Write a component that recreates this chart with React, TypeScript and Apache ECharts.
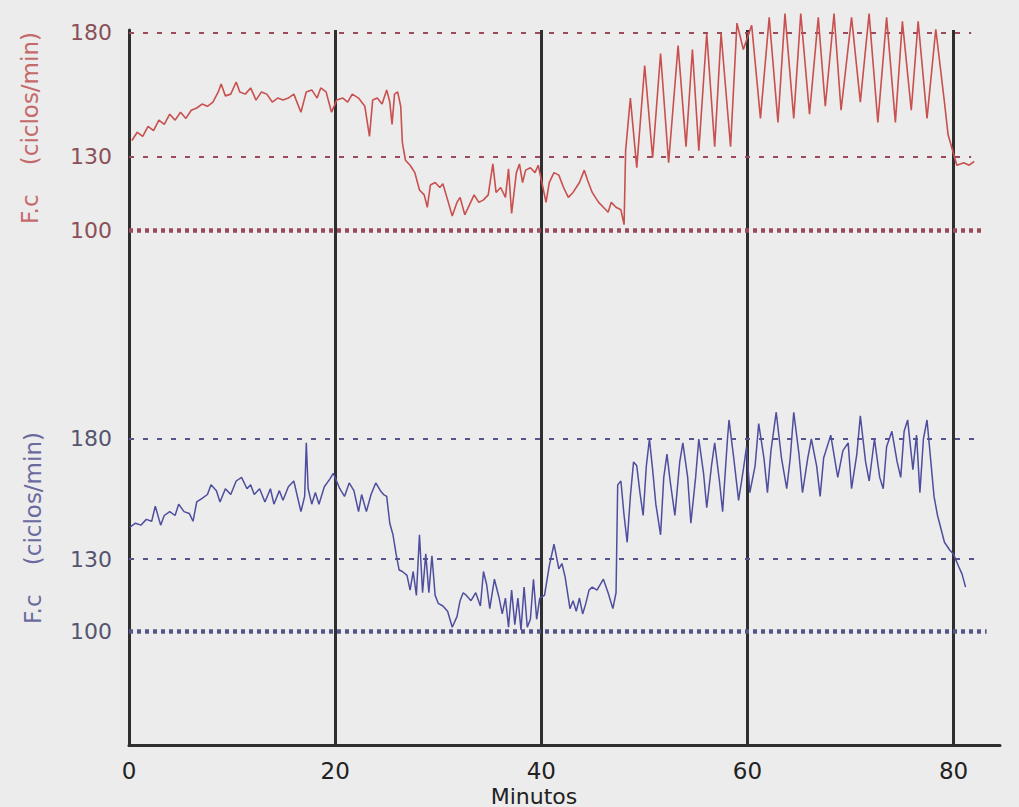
import React, { useEffect, useRef } from 'react';
import * as echarts from 'echarts';

const minuteTicks = [0, 20, 40, 60, 80];
const bpmTicks = [100, 130, 180];
const guideMinutes = [20, 40, 60, 80];
// end (minutes) of the reference lines at 100, 130, 180
const topRefEnds = [82.7, 81.7, 81.7];
const bottomRefEnds = [83.2, 82.1, 82.1];

const topMinutes = [
  0.28, 0.8, 1.33, 1.85, 2.38, 2.9, 3.42, 3.95, 4.47, 5.0, 5.52, 6.04, 6.57, 7.09, 7.61, 8.14, 8.66, 8.94, 9.35, 9.87,
  10.4, 10.75, 11.28, 11.8, 12.32, 12.85, 13.37, 13.9, 14.42, 14.94, 15.46, 15.99, 16.68, 17.2, 17.73, 18.25, 18.6, 19.12, 19.65, 20.15,
  20.75, 21.21, 21.66, 22.27, 22.88, 23.33, 23.64, 24.09, 24.55, 25.0, 25.3, 25.52, 25.76, 26.06, 26.36, 26.52, 26.82, 27.27, 27.73, 28.18,
  28.64, 28.94, 29.24, 29.7, 30.15, 30.45, 30.91, 31.36, 31.82, 32.12, 32.58, 33.03, 33.48, 33.94, 34.39, 34.85, 35.3, 35.61, 36.06, 36.52,
  36.82, 37.12, 37.58, 37.88, 38.18, 38.48, 38.94, 39.39, 39.7, 40.46, 40.77, 41.23, 41.7, 42.16, 42.62, 43.08, 43.7, 44.17, 44.48, 44.94,
  45.56, 46.02, 46.48, 46.79, 47.25, 47.72, 48.03, 48.18, 48.64, 49.26, 50.03, 50.8, 51.57, 52.35, 53.27, 54.04, 54.66, 55.28, 56.05, 56.82,
  57.44, 58.36, 58.98, 59.6, 60.41, 61.26, 62.11, 62.96, 63.64, 64.49, 65.17, 66.02, 66.87, 67.55, 68.4, 69.08, 70.1, 70.95, 71.8, 72.65,
  73.5, 74.35, 75.03, 75.89, 76.56, 77.42, 78.27, 79.11, 79.46, 80.31, 80.99, 81.5, 82.0,
];
const topBpm = [
  136.4, 139.7, 138, 142.1, 140.4, 144.6, 142.9, 147, 144.6, 147.8, 145.3, 148.6, 149.5, 151.1, 150.2, 151.9, 156, 159.2, 154.4, 155.1,
  160, 156, 155.1, 157.6, 152.7, 156, 155.1, 151.9, 153.5, 152.7, 153.5, 155.1, 147.8, 156, 156.8, 153.5, 157.6, 156, 147.8, 152.7,
  153.5, 151.9, 155.1, 153.5, 150.2, 138, 152.7, 153.5, 151.1, 156.8, 151.9, 142.9, 155.1, 156, 150.2, 135.5, 128.4, 126.4, 123.4, 116.4,
  114.4, 109.4, 118.4, 119.4, 117.4, 118.9, 112.4, 105.9, 111.4, 113.4, 106.4, 110.4, 114.4, 111.4, 112.4, 114.4, 126.9, 115.4, 117.4, 113.4,
  124.9, 106.9, 123.4, 126.9, 119.4, 124.4, 125.4, 123.4, 126.4, 111.4, 119.4, 123.4, 122.4, 117.4, 113.4, 115.4, 119.4, 124.4, 120.4, 115.4,
  111.4, 109.4, 107.4, 111.4, 109.4, 108.4, 102.4, 132.3, 153.5, 125.4, 166.6, 129.4, 171.5, 127.4, 174.7, 133.9, 173.1, 132.3, 179.6, 133.9,
  179.6, 133.9, 183.8, 173.1, 182.9, 145.3, 186.1, 143.7, 187.6, 145.3, 187.6, 147, 186.1, 150.2, 187.6, 148.6, 186.1, 151.9, 187.6, 143.7,
  186.1, 143.7, 184.5, 148.6, 184.5, 145.3, 181.3, 151.9, 138.8, 126.4, 127.4, 126.4, 127.9,
];

const bottomMinutes = [
  0.1, 0.63, 1.15, 1.68, 2.2, 2.55, 3.07, 3.42, 3.95, 4.47, 4.82, 5.34, 5.86, 6.21, 6.57, 7.09, 7.61, 7.96, 8.48, 8.83,
  9.35, 9.87, 10.4, 10.92, 11.45, 11.8, 12.15, 12.67, 13.19, 13.72, 14.06, 14.59, 14.94, 15.46, 15.99, 16.68, 17.04, 17.2, 17.38, 17.73,
  18.08, 18.43, 18.95, 19.48, 19.82, 20.45, 20.91, 21.36, 21.82, 22.27, 22.57, 23.03, 23.48, 23.94, 24.39, 24.7, 25.0, 25.3, 25.61, 25.91,
  26.21, 26.52, 26.97, 27.27, 27.57, 27.88, 28.18, 28.48, 28.79, 29.09, 29.39, 29.7, 30.0, 30.45, 30.91, 31.36, 31.82, 32.12, 32.42, 32.73,
  33.18, 33.64, 34.09, 34.39, 34.7, 35.0, 35.45, 35.91, 36.21, 36.52, 36.82, 37.12, 37.43, 37.73, 38.03, 38.33, 38.64, 38.94, 39.24, 39.55,
  39.85, 40.31, 40.77, 41.23, 41.7, 42.0, 42.31, 42.78, 43.08, 43.39, 43.7, 44.01, 44.32, 44.63, 44.94, 45.4, 46.02, 46.48, 46.94, 47.25,
  47.41, 47.72, 48.03, 48.33, 48.64, 48.95, 49.26, 49.57, 49.88, 50.19, 50.49, 50.8, 51.11, 51.57, 51.88, 52.19, 52.5, 52.96, 53.43, 53.73,
  54.2, 54.51, 54.97, 55.28, 55.74, 56.05, 56.51, 56.82, 57.28, 57.59, 58.06, 58.21, 58.67, 59.14, 59.6, 59.91, 60.23, 60.74, 61.09, 61.6,
  61.94, 62.28, 62.79, 63.3, 63.81, 64.15, 64.49, 65.0, 65.34, 65.85, 66.2, 66.71, 67.05, 67.39, 68.08, 68.76, 69.26, 69.77, 70.1, 70.61,
  70.95, 71.46, 71.81, 72.32, 72.83, 73.17, 73.5, 74.01, 74.52, 74.87, 75.2, 75.54, 76.05, 76.4, 76.73, 77.07, 77.42, 77.76, 78.1, 78.44,
  79.11, 79.62, 79.97, 80.48, 80.82, 81.16,
];
const bottomBpm = [
  143.3, 144.9, 144.1, 146.5, 145.7, 152, 144.1, 148.1, 149.7, 148.1, 152.8, 149.7, 148.9, 145.7, 153.7, 155.2, 156.8, 160.8, 158.4, 153.7,
  159.2, 156.8, 162.4, 163.9, 159.2, 160.8, 156.8, 159.2, 153.7, 159.2, 152.8, 158.4, 154.4, 160, 162.4, 149.7, 156, 178.2, 159.2, 152.8,
  157.6, 152.8, 160, 163.2, 165.6, 159.2, 156, 161.6, 158.4, 149.7, 156.8, 149.7, 156.8, 161.6, 158.4, 156.8, 156, 144.9, 140.1, 132.2,
  125.5, 124.9, 123.3, 117.2, 124.9, 115, 140.1, 116.1, 132.2, 116.1, 131.4, 115, 111.7, 110.6, 108.4, 101.8, 106.2, 112.8, 116.1, 115,
  112.8, 116.1, 110.6, 124.9, 119.4, 109.5, 121.7, 113.9, 107.3, 113.9, 101.8, 117.2, 102.9, 113.9, 100.7, 118.4, 101.8, 105.1, 121.7, 105.1,
  113.9, 115, 127.1, 136.2, 126, 128.2, 122.7, 109.5, 112.8, 108.4, 113.9, 107.3, 111.7, 117.2, 118.4, 117.2, 121.7, 116.1, 109.5, 116.1,
  160.8, 162.4, 148.1, 137, 156, 170.3, 168.7, 157.6, 148.1, 168.7, 179.8, 167.1, 152.8, 140.1, 163.9, 173.5, 162.4, 148.1, 170.3, 178.2,
  163.9, 144.9, 163.9, 179.8, 165.6, 151.3, 168.7, 178.2, 162.4, 149.7, 179.8, 187.7, 171.9, 154.4, 167.1, 176.6, 157.6, 168.7, 186.2, 171.9,
  157.6, 175, 190.9, 171.9, 159.2, 171.9, 190.9, 173.5, 157.6, 171.9, 179.8, 168.7, 156, 171.9, 181.4, 163.9, 175, 178.2, 159.2, 173.5,
  189.4, 170.3, 162.4, 179.8, 163.9, 159.2, 176.6, 183, 170.3, 163.9, 183, 187.7, 167.1, 181.4, 157.6, 179.8, 187.7, 171.9, 156, 148.1,
  137, 133.8, 132.2, 127.1, 123.8, 118.4,
];

const FONT = "'DejaVu Sans', 'Noto Sans', sans-serif";
const AXIS_DARK = '#2f2f2f';

function zip(xs: number[], ys: number[]) {
  return xs.map((x, i) => [x, ys[i]]);
}

function refLines(ends: number[], color: string) {
  return bpmTicks.map((v, i) => [
    {
      coord: [0, v],
      lineStyle:
        v === 100
          ? { color, width: 4.5, type: [4, 4], cap: 'butt' }
          : { color, width: 2, type: [5, 9], cap: 'butt' },
    },
    { coord: [ends[i], v] },
  ]);
}

function verticalLines() {
  return guideMinutes.map((m) => ({
    xAxis: m,
    lineStyle: { color: AXIS_DARK, width: 3, type: 'solid' },
  }));
}

function rotatedName(x: number, y: number, color: string) {
  return {
    type: 'text',
    x,
    y,
    rotation: Math.PI / 2,
    style: {
      text: 'F.c    (ciclos/min)',
      fill: color,
      fontSize: 23,
      fontFamily: FONT,
      align: 'center',
      verticalAlign: 'middle',
      textAlign: 'center',
      textVerticalAlign: 'middle',
    },
  };
}

export default function App() {
  const ref = useRef<HTMLDivElement>(null);
  useEffect(() => {
    if (!ref.current) return;
    const chart = echarts.init(ref.current, undefined, { renderer: 'svg' });
    const topColor = '#c8504e';
    const bottomColor = '#4e4e9e';
    const topRef = '#9a4a58';
    const bottomRef = '#55558c';
    const option: any = {
      animation: false,
      backgroundColor: '#ececec',
      grid: [
        { left: 129, right: 19, top: 30, height: 312 },
        { left: 129, right: 19, top: 342, height: 403 },
      ],
      xAxis: [
        {
          gridIndex: 0,
          type: 'value',
          min: 0,
          max: 84.5,
          show: false,
          splitLine: { show: false },
        },
        {
          gridIndex: 1,
          type: 'value',
          min: 0,
          max: 84.5,
          axisLine: { show: true, onZero: false, lineStyle: { color: AXIS_DARK, width: 3 } },
          axisTick: { show: false },
          splitLine: { show: false },
          axisLabel: {
            customValues: minuteTicks,
            color: '#222',
            fontSize: 23,
            fontFamily: FONT,
            margin: 14,
          },
        },
      ],
      yAxis: [
        {
          gridIndex: 0,
          type: 'value',
          min: 55,
          max: 181,
          axisLine: { show: true, onZero: false, lineStyle: { color: AXIS_DARK, width: 3 } },
          axisTick: { show: false },
          splitLine: { show: false },
          axisLabel: {
            customValues: bpmTicks,
            color: '#8a5058',
            fontSize: 22,
            fontFamily: FONT,
            margin: 17,
          },
        },
        {
          gridIndex: 1,
          type: 'value',
          min: 53,
          max: 220,
          axisLine: { show: true, onZero: false, lineStyle: { color: AXIS_DARK, width: 3 } },
          axisTick: { show: false },
          splitLine: { show: false },
          axisLabel: {
            customValues: bpmTicks,
            color: '#55556e',
            fontSize: 22,
            fontFamily: FONT,
            margin: 17,
          },
        },
      ],
      graphic: [
        rotatedName(30, 128, '#c46a6a'),
        rotatedName(33, 528, '#6a6a9e'),
        {
          type: 'text',
          x: 534,
          y: 796,
          style: {
            text: 'Minutos',
            fill: '#222',
            fontSize: 22,
            fontFamily: FONT,
            align: 'center',
            verticalAlign: 'middle',
            textAlign: 'center',
            textVerticalAlign: 'middle',
          },
        },
      ],
      series: [
        {
          type: 'line',
          xAxisIndex: 0,
          yAxisIndex: 0,
          data: zip(topMinutes, topBpm),
          showSymbol: false,
          symbol: 'none',
          clip: false,
          lineStyle: { color: topColor, width: 1.6 },
          z: 3,
          markLine: {
            silent: true,
            symbol: ['none', 'none'],
            label: { show: false },
            z: 2,
            data: [...verticalLines(), ...refLines(topRefEnds, topRef)],
          },
        },
        {
          type: 'line',
          xAxisIndex: 1,
          yAxisIndex: 1,
          data: zip(bottomMinutes, bottomBpm),
          showSymbol: false,
          symbol: 'none',
          clip: false,
          lineStyle: { color: bottomColor, width: 1.5 },
          z: 3,
          markLine: {
            silent: true,
            symbol: ['none', 'none'],
            label: { show: false },
            z: 2,
            data: [...verticalLines(), ...refLines(bottomRefEnds, bottomRef)],
          },
        },
      ],
    };
    chart.setOption(option);
    return () => chart.dispose();
  }, []);
  return (
    <div
      ref={ref}
      style={{ position: 'fixed', left: 0, top: 0, width: 1019, height: 807 }}
    />
  );
}
